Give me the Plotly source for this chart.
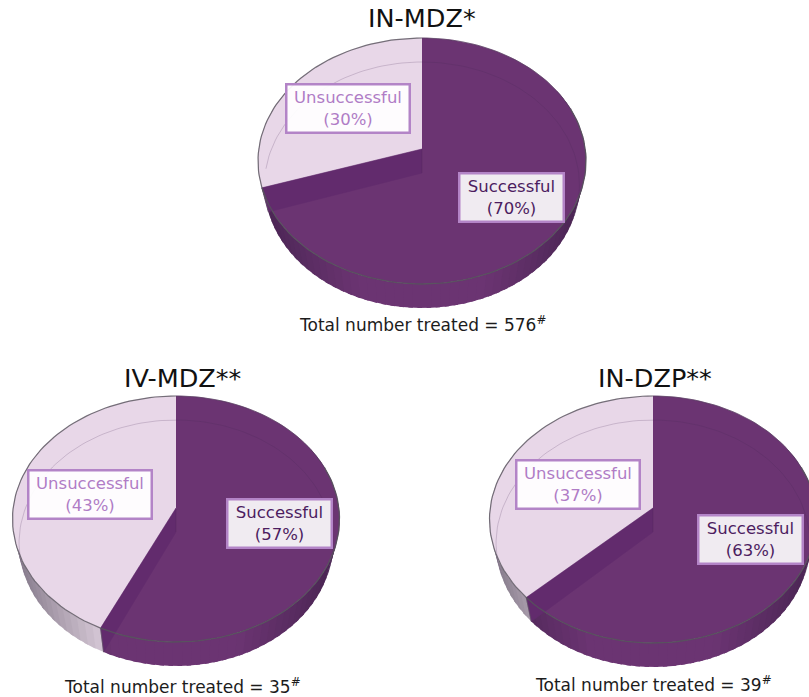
import math
import plotly.graph_objects as go

# Treatment outcomes for each rescue medication
TITLES = ["IN-MDZ*", "IV-MDZ**", "IN-DZP**"]
SUCCESSFUL = [70, 57, 63]
UNSUCCESSFUL = [30, 43, 37]
TOTALS = [576, 35, 39]

# Where each tilted disc sits on the page
PANELS = [
    dict(cx=422, cy=149, up=111, down=135, half=164,
         title=(422, 18), total=(422.5, 324), bad_box=(348, 108), good_box=(511, 197)),
    dict(cx=176, cy=508, up=112, down=134, half=163.5,
         title=(182.5, 378), total=(182, 686), bad_box=(89.5, 494), good_box=(279.5, 523)),
    dict(cx=653, cy=508, up=112, down=135, half=163.5,
         title=(654.5, 378), total=(653, 684), bad_box=(578, 484), good_box=(750.5, 539)),
]

DEPTH = 24
BASE_SHRINK = 0.96
FONT = "DejaVu Sans"
DARK = "#6b3472"
LIGHT = "#e8d7e8"
CUT_FACE = "#622b6d"
BOX_EDGE = "#b384c7"


def mix(a, b, t):
    ca = [int(a[i:i + 2], 16) for i in (1, 3, 5)]
    cb = [int(b[i:i + 2], 16) for i in (1, 3, 5)]
    return "rgb(%d,%d,%d)" % tuple(round(p + (q - p) * t) for p, q in zip(ca, cb))


def make_projector(p):
    """Perspective view of a flat disc; angles run clockwise from 12 o'clock."""
    k = (p["down"] - p["up"]) / (p["down"] + p["up"])
    ry = p["up"] * (1 + k)
    rx = p["half"] * math.sqrt(1 - k * k)

    def project(deg, base=False, radius=1.0):
        a = math.radians(deg)
        u, v = radius * math.sin(a), -radius * math.cos(a)
        s = 1 / (1 - k * v)
        shrink = BASE_SHRINK if base else 1
        return (p["cx"] + rx * u * s * shrink,
                p["cy"] + ry * v * s + (DEPTH if base else 0))
    return project


def arc(project, start, end, base=False, step=2):
    n = max(2, int(abs(end - start) / step) + 1)
    return [project(start + (end - start) * i / (n - 1), base) for i in range(n)]


fig = go.Figure()


def polygon(points, color, edge=0.6):
    fig.add_trace(go.Scatter(
        x=[q[0] for q in points], y=[q[1] for q in points],
        mode="lines", fill="toself", fillcolor=color,
        line=dict(color=color, width=edge),
        hoverinfo="skip", showlegend=False))


def stroke(points, color, width=1):
    fig.add_trace(go.Scatter(
        x=[q[0] for q in points], y=[q[1] for q in points],
        mode="lines", line=dict(color=color, width=width),
        hoverinfo="skip", showlegend=False))


def wall(project, start, end, centre, rim):
    """Side wall between two angles, shaded towards the disc's edges."""
    strips = max(1, int((end - start) / 3))
    for i in range(strips):
        lo = start + (end - start) * i / strips
        hi = start + (end - start) * (i + 1) / strips
        # each strip runs under the next so no seams show
        reach = min(end, hi + 1.5)
        edge = abs(math.sin(math.radians((lo + hi) / 2)))
        t = min(1, max(0, (edge - 0.35) / 0.6))
        polygon([project(lo), project(reach), project(reach, True), project(lo, True)],
                mix(centre, rim, t), edge=0)


annotations = []


def label(xy, html, size, color, **extra):
    annotations.append(dict(
        x=xy[0], y=xy[1], xref="x", yref="y", text=html, showarrow=False,
        font=dict(family=FONT, size=size, color=color),
        xanchor="center", yanchor="middle", align="center", **extra))


for p, name, good, bad, total in zip(PANELS, TITLES, SUCCESSFUL, UNSUCCESSFUL, TOTALS):
    project = make_projector(p)
    split = 360 * good / (good + bad)

    wall(project, 60, split, DARK, "#4a2553")
    wall(project, split, 300, "#e0d2e0", "#857a8a")

    # Top faces of the two slices
    apex = project(0, radius=0)
    polygon([apex] + arc(project, 0, split), DARK)
    polygon([apex] + arc(project, split, 360), LIGHT)

    # Exposed cut between the slices
    polygon([apex, project(split), project(split, True), project(0, True, 0)], CUT_FACE)
    stroke([apex, project(0, True, 0)], "rgba(70,30,80,0.25)")
    stroke([project(split), project(split, True)], "rgba(95,90,100,0.6)")

    # Rim of the base seen through the top, then the rim of the top face
    stroke(arc(project, split + 20 if split > 240 else 250, 470, True), "rgba(70,40,85,0.2)")
    stroke(arc(project, 0, 70), "rgba(75,65,85,0.5)", 1)
    stroke(arc(project, 70, split), "rgba(85,85,90,0.85)", 1.3)
    stroke(arc(project, split, 360), "rgba(95,90,100,0.85)", 1.2)

    label(p["title"], name, 25.5, "#111111")
    label(p["total"], "Total number treated = %d<sup>#</sup>" % total, 17, "#1c1c1c")
    label(p["bad_box"], "Unsuccessful<br>(%d%%)" % bad, 16.5, "#b07cc6",
          width=121, height=46, bgcolor="rgba(255,255,255,0.93)",
          bordercolor=BOX_EDGE, borderwidth=2.5, borderpad=0)
    label(p["good_box"], "Successful<br>(%d%%)" % good, 16.5, "#4c1c60",
          width=102, height=46, bgcolor="rgba(255,255,255,0.9)",
          bordercolor=BOX_EDGE, borderwidth=2.5, borderpad=0)

fig.update_layout(
    width=809, height=697, margin=dict(l=0, r=0, t=0, b=0),
    paper_bgcolor="white", plot_bgcolor="white",
    xaxis=dict(range=[0, 809], visible=False, fixedrange=True),
    yaxis=dict(range=[697, 0], visible=False, fixedrange=True),
    annotations=annotations, showlegend=False,
)
fig.write_html("out.html", config=dict(displayModeBar=False))
